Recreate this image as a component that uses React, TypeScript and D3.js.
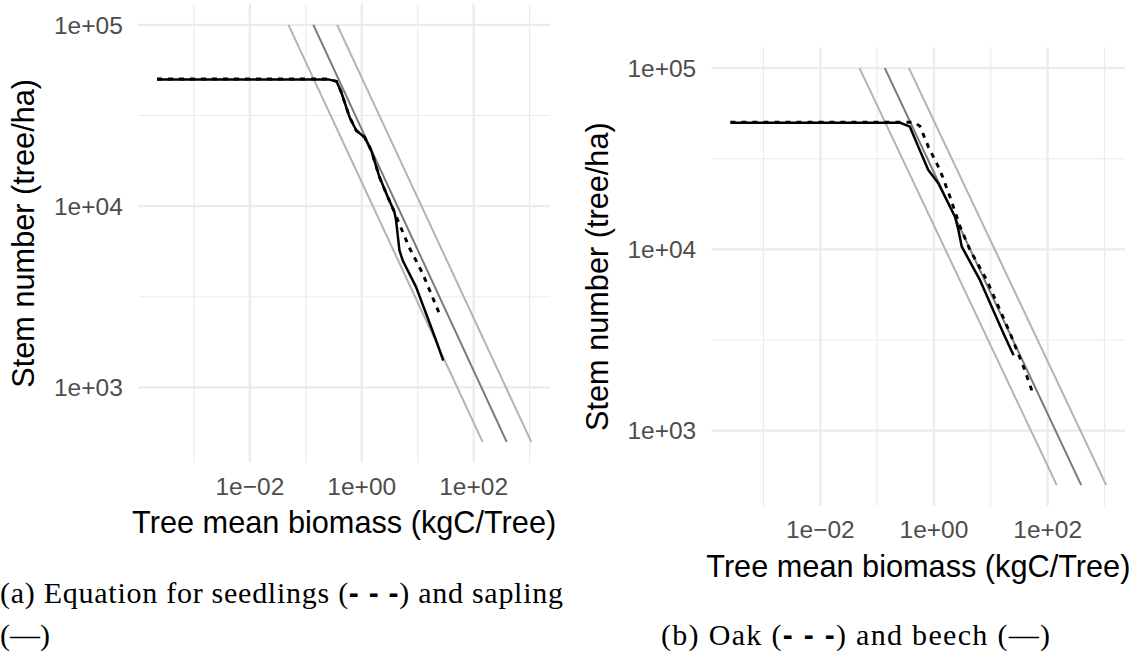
import React from "react";
import * as d3 from "d3";

// ---------- axis ticks ----------
const xTickValues = [1e-2, 1, 1e2];
const xTickLabels = ["1e\u221202", "1e+00", "1e+02"];
const xMinorValues = [1e-3, 1e-1, 1e1, 1e3];
const yTickValues = [1e3, 1e4, 1e5];
const yTickLabels = ["1e+03", "1e+04", "1e+05"];
const yMinorValues = [3162.3, 31622.8];

// ---------- self-thinning guide lines (same in both panels) ----------
const guideN = [100000, 500];
const guideLowerB = [0.049, 144.5];
const guideMiddleB = [0.1365, 389];
const guideUpperB = [0.363, 1072];

// ---------- panel (a): seedlings (dashed) and saplings (solid) ----------
const saplingB = [0.000219, 0.251, 0.355, 0.431, 0.607, 0.798, 1.122, 1.476, 2.075, 2.917, 3.837, 4.111, 4.71, 5.395, 9.33, 14.09, 21.23, 28.64];
const saplingN = [50000, 50000, 48750, 42460, 30900, 26120, 23990, 20280, 14450, 11220, 9268, 8318, 5715, 5012, 3581, 2553, 1820, 1403];
const seedlingB = [0.000219, 0.251, 0.355, 0.431, 0.607, 0.798, 1.122, 1.476, 2.075, 2.917, 3.837, 4.426, 7.112, 12.3, 23.77];
const seedlingN = [50300, 50300, 48750, 42460, 30900, 26120, 23990, 20280, 14450, 11220, 9268, 8318, 5888, 4236, 2600];

// ---------- panel (b): oak (dashed) and beech (solid) ----------
const beechB = [0.000263, 0.251, 0.3767, 0.5284, 0.7943, 1.191, 2.344, 2.692, 3.083, 6.457, 16.71, 25.12];
const beechN = [50000, 50000, 47530, 36900, 27420, 23170, 15140, 12790, 10350, 6761, 3436, 2606];
const oakB = [0.000263, 0.4467, 0.5662, 0.7943, 1.276, 1.914, 2.877, 4.315, 8.511, 21.93, 37.67, 56.49];
const oakN = [50300, 50300, 47860, 36900, 27420, 19500, 13340, 9908, 6761, 3436, 2244, 1567];

const SANS = "'Liberation Sans', Arial, Helvetica, sans-serif";
const SERIF = "'Liberation Serif', 'Times New Roman', serif";

function zip(a: number[], b: number[]): [number, number][] {
  return a.map((v, i) => [v, b[i]] as [number, number]);
}

function expandLog(values: number[]): [number, number] {
  const logs = values.map((v) => Math.log10(v));
  const lo = d3.min(logs) as number;
  const hi = d3.max(logs) as number;
  const pad = (hi - lo) * 0.05;
  return [Math.pow(10, lo - pad), Math.pow(10, hi + pad)];
}

type PanelProps = {
  left: number;
  right: number;
  top: number;
  bottom: number;
  solidB: number[];
  solidN: number[];
  dashB: number[];
  dashN: number[];
};

function Panel({ left, right, top, bottom, solidB, solidN, dashB, dashN }: PanelProps) {
  const allB = [...solidB, ...dashB, ...guideLowerB, ...guideMiddleB, ...guideUpperB];
  const allN = [...solidN, ...dashN, ...guideN];
  const xs = d3.scaleLog().domain(expandLog(allB)).range([left, right]);
  const ys = d3.scaleLog().domain(expandLog(allN)).range([bottom, top]);
  const line = d3
    .line<[number, number]>()
    .x((d) => xs(d[0]))
    .y((d) => ys(d[1]));

  const guides = [
    { b: guideLowerB, color: "#b3b3b3" },
    { b: guideUpperB, color: "#b3b3b3" },
    { b: guideMiddleB, color: "#7a7a7a" },
  ];
  const grid = "#ebebeb";
  const cy = (top + bottom) / 2;
  const cx = (left + right) / 2;

  return (
    <g>
      {yMinorValues.map((v, i) => (
        <line key={"ym" + i} x1={left} x2={right} y1={ys(v)} y2={ys(v)} stroke={grid} strokeWidth={1.1} />
      ))}
      {xMinorValues.map((v, i) => (
        <line key={"xm" + i} x1={xs(v)} x2={xs(v)} y1={top} y2={bottom} stroke={grid} strokeWidth={1.1} />
      ))}
      {yTickValues.map((v, i) => (
        <line key={"yM" + i} x1={left} x2={right} y1={ys(v)} y2={ys(v)} stroke={grid} strokeWidth={2.2} />
      ))}
      {xTickValues.map((v, i) => (
        <line key={"xM" + i} x1={xs(v)} x2={xs(v)} y1={top} y2={bottom} stroke={grid} strokeWidth={2.2} />
      ))}
      {guides.map((g, i) => (
        <path key={"g" + i} d={line(zip(g.b, guideN)) || ""} fill="none" stroke={g.color} strokeWidth={2} />
      ))}
      <path d={line(zip(solidB, solidN)) || ""} fill="none" stroke="#000" strokeWidth={2.5} strokeLinejoin="round" />
      <path d={line(zip(dashB, dashN)) || ""} fill="none" stroke="#000" strokeWidth={2.9} strokeDasharray="5,6" />
      {yTickValues.map((v, i) => (
        <text key={"yl" + i} x={left - 15.5} y={ys(v)} dy="0.36em" textAnchor="end" fontSize={24.5} fill="#4d4d4d" fontFamily={SANS}>
          {yTickLabels[i]}
        </text>
      ))}
      {xTickValues.map((v, i) => (
        <text key={"xl" + i} x={xs(v)} y={bottom + 32.3} textAnchor="middle" fontSize={24.5} fill="#4d4d4d" fontFamily={SANS}>
          {xTickLabels[i]}
        </text>
      ))}
      <text x={cx} y={bottom + 70.5} textAnchor="middle" fontSize={30.7} fill="#000" fontFamily={SANS}>
        Tree mean biomass (kgC/Tree)
      </text>
      <text
        transform={`translate(${left - 104},${cy}) rotate(-90)`}
        textAnchor="middle"
        fontSize={30.7}
        fill="#000"
        fontFamily={SANS}
      >
        Stem number (tree/ha)
      </text>
    </g>
  );
}

export default function App() {
  return (
    <svg
      width={1140}
      height={659}
      style={{ position: "absolute", left: 0, top: 0, background: "#fff" }}
      xmlns="http://www.w3.org/2000/svg"
    >
      <rect x={0} y={0} width={1140} height={659} fill="#fff" />
      <Panel left={138.3} right={550} top={4} bottom={462.7} solidB={saplingB} solidN={saplingN} dashB={seedlingB} dashN={seedlingN} />
      <Panel left={711.7} right={1125} top={47.3} bottom={506} solidB={beechB} solidN={beechN} dashB={oakB} dashN={oakN} />
      <text x={0} y={603} fontSize={30} fontFamily={SERIF} fill="#000" textLength={563} lengthAdjust="spacing">
        (a) Equation for seedlings (<tspan fontFamily={SANS} fontWeight="bold">- - -</tspan>) and sapling
      </text>
      <text x={0} y={645} fontSize={30} fontFamily={SERIF} fill="#000">
        (—)
      </text>
      <text x={661} y={645} fontSize={30} fontFamily={SERIF} fill="#000" textLength={389} lengthAdjust="spacing">
        (b) Oak (<tspan fontFamily={SANS} fontWeight="bold">- - -</tspan>) and beech (—)
      </text>
    </svg>
  );
}
